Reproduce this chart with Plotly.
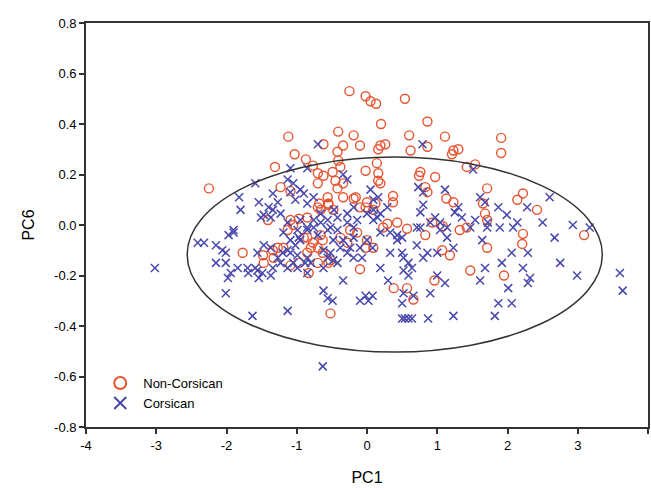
import plotly.graph_objects as go

# Non-Corsican (open circles): PC1, PC6
non_pc1 = [-0.25, -0.02, 0.05, 0.13, 0.54, 0.20, 0.86, 0.60, 1.11, 1.91, 1.91, -0.10, 0.19, 0.26, 0.16,
           0.62, 0.86, 1.23, 1.30, 1.21, 0.14, -0.02, 0.16, 1.42, 1.54, 0.76, 0.74, 0.97, 0.16, 0.83,
           0.86, 1.71, 0.37, 0.37, 1.13, 1.23, 1.65, 2.22, 2.14, 2.42, 1.68, 1.71, 0.43, 0.29, 0.93,
           1.08, 0.57, 1.32, 1.42, 2.22, 3.09, 2.21, 1.71, 1.47, 1.95, 0.96, 0.38, 0.57, 0.66, 1.07,
           1.18, 0.83, -0.10, 0.00, 0.09, -0.02,
           -1.77, -1.48, -1.34, -1.33, -1.47, -1.09, -0.97, -0.85, -0.70, -0.55, -0.83, -0.52, -0.85,
           -0.77, -0.66, -0.80, -1.13, -1.05, -1.41, -2.25, -1.12, -1.31, -1.03, -0.87, -0.62, -0.41,
           -0.19, -0.34, -0.42, -0.41, -0.38, -0.70, -0.62, -0.49, -0.77, -1.23, -1.09, -0.70, -0.45,
           -0.34, -0.42, -0.34, -0.19, -0.70, -0.55, -0.48, -1.09, -0.97, -0.02, 0.12,
           -0.16, 0.00, -0.10, 0.19, -0.56, -0.55, -0.68, -0.66, -0.85, 0.09, 0.23, -0.24, -0.14,
           -0.38, -0.28, -0.70, -0.63, -0.90, -1.19, -1.27, -0.52, -0.63]
non_pc6 = [0.53, 0.51, 0.49, 0.48, 0.50, 0.40, 0.41, 0.355, 0.35, 0.345, 0.285, 0.315, 0.315, 0.32, 0.30,
           0.295, 0.31, 0.295, 0.30, 0.28, 0.245, 0.215, 0.205, 0.23, 0.24, 0.21, 0.195, 0.19, 0.175, 0.15,
           0.13, 0.145, 0.115, 0.09, 0.105, 0.09, 0.085, 0.125, 0.10, 0.06, 0.045, 0.02, 0.01, 0.005, 0.01,
           -0.005, -0.015, -0.02, -0.01, -0.035, -0.04, -0.075, -0.09, -0.18, -0.20, -0.22, -0.25, -0.25, -0.295, -0.10,
           -0.12, -0.04, -0.175, -0.06, -0.09, -0.09,
           -0.11, -0.12, -0.10, -0.13, -0.15, -0.16, -0.15, -0.11, -0.15, -0.15, -0.19, -0.35, -0.05,
           -0.07, -0.04, -0.09, -0.02, 0.00, 0.02, 0.145, 0.35, 0.23, 0.28, 0.26, 0.32, 0.37,
           0.355, 0.315, 0.29, 0.255, 0.23, 0.205, 0.195, 0.21, 0.235, 0.15, 0.135, 0.165, 0.175,
           0.165, 0.145, 0.11, 0.105, 0.07, 0.08, 0.06, 0.02, 0.025, 0.07, 0.085,
           0.11, 0.09, 0.07, 0.165, 0.11, 0.085, 0.085, 0.06, 0.03, 0.06, -0.01, -0.02, -0.03,
           -0.05, -0.07, -0.09, -0.11, -0.05, -0.09, -0.09, -0.14, -0.06]

# Corsican (crosses): PC1, PC6
cor_pc1 = [-3.02, -2.41, -2.32, -2.15, -2.06, -2.01, -2.15, -2.01, -1.94, -1.84, -1.98, -2.01, -1.97, -1.90,
           -1.63, -1.13, -0.63, -1.70, -1.56, -1.54, -1.37, -1.34, -1.47, -1.56, -1.20, -1.13, -1.05, -0.85,
           -0.62, -0.56, -0.49, -0.34, -0.10, -0.52, -0.42, -0.62, -0.24, -0.34, -0.19, -1.09, -1.19, -0.99,
           -0.85, -1.69, -1.59, -1.49, -1.37, -1.27, -1.23, -1.09, -1.02, -0.95, -0.99, -0.88, -0.80, -0.02,
           0.02, -0.76, -0.66, -0.52, -0.42, -0.28, -0.19, -0.48, -0.38, -0.28, -0.62, -0.56, 0.00, 0.08,
           -0.07, -0.48,
           0.33, 0.43, 0.50, 0.76, 0.90, 1.04, 1.14, 1.23, 0.19, 0.33, 0.50, 0.52, 0.59, 0.64, 0.52, 0.59,
           0.30, 0.08, 0.52, 0.66, 0.50, 0.50, 0.54, 0.59, 0.64, 0.87, 1.23, 0.71, 0.86, 1.00, 0.80, 0.90,
           1.00, 1.11, 1.64, 1.68, 1.61, 1.87, 2.06, 1.82, 1.92, 2.06, 2.22, 2.29, 2.32, 2.29, 2.01, 1.71,
           1.89, 2.08, 2.50, 2.93, 2.67, 2.75, 2.99, 3.17, 3.60, 3.64,
           0.79, 1.51, 0.73, 0.80, 1.11, 1.61, 1.68, 2.60, 0.80, 0.76, 1.30, 1.25, 1.35, 1.87, 1.99, 2.28,
           0.05, 0.16, 0.09, 0.15, 0.97, 1.04, 1.14, 1.54, 1.47, 0.71, 1.72, 2.14,
           -0.70, -1.59, -1.09, -0.85, -1.82, -1.80, -1.54, -1.34, -1.40, -1.51, -1.37, -1.13, -1.05, -1.09,
           -1.02, -0.90, -0.85, -0.76, -0.34, -0.28, -0.66, -0.56, -0.42, -0.28, -0.14, 0.00, 0.09, 0.09,
           -1.90, -1.23, -1.13, -0.95, -0.85, -0.76, -1.47, -1.34, -1.27, -0.95,
           -0.47, -0.19, 0.19, 0.29, -0.97, -0.70, -0.56, -1.13, -0.99, -0.85, -0.19, -0.10, 0.19, 0.43]
cor_pc6 = [-0.17, -0.07, -0.07, -0.08, -0.10, -0.11, -0.15, -0.15, -0.19, -0.17, -0.21, -0.27, -0.04, -0.03,
           -0.36, -0.34, -0.56, -0.17, -0.18, -0.21, -0.20, -0.17, -0.08, -0.11, -0.11, -0.17, -0.15, -0.19,
           -0.26, -0.29, -0.30, -0.22, -0.30, -0.11, -0.15, -0.17, -0.09, -0.06, -0.05, -0.06, -0.03, -0.02,
           -0.02, -0.19, -0.17, -0.19, -0.09, -0.13, -0.15, -0.11, -0.08, -0.06, -0.17, -0.15, -0.15, -0.28,
           -0.30, 0.02, 0.01, -0.01, -0.02, 0.01, -0.01, -0.06, -0.09, -0.11, -0.10, -0.13, -0.06, -0.09,
           -0.13, -0.14,
           -0.03, -0.04, -0.05, -0.01, 0.01, -0.02, -0.05, -0.09, -0.17, -0.11, -0.11, -0.13, -0.15, -0.17, -0.18, -0.20,
           -0.22, -0.28, -0.27, -0.28, -0.31, -0.37, -0.37, -0.37, -0.37, -0.37, -0.36, -0.08, -0.11, -0.11, -0.13, -0.27,
           -0.20, -0.23, -0.06, -0.17, -0.22, -0.31, -0.31, -0.36, -0.15, -0.11, -0.17, -0.11, -0.21, -0.23, -0.25, -0.01,
           -0.01, -0.01, 0.01, 0.00, -0.05, -0.15, -0.20, -0.01, -0.19, -0.26,
           0.32, 0.22, 0.15, 0.13, 0.14, 0.11, 0.09, 0.11, 0.08, 0.05, 0.07, 0.05, 0.03, 0.07, 0.04, 0.07,
           0.14, 0.11, 0.06, 0.03, 0.03, 0.01, -0.01, 0.02, -0.01, -0.01, 0.01, 0.01,
           0.32, 0.165, 0.225, 0.225, 0.11, 0.06, 0.09, 0.125, 0.07, 0.03, 0.03, 0.18, 0.165, 0.13,
           0.10, 0.125, 0.085, 0.11, 0.20, 0.18, 0.045, 0.02, 0.03, 0.045, 0.02, 0.045, 0.02, 0.10,
           -0.02, 0.045, 0.01, 0.02, -0.01, -0.01, 0.04, 0.06, 0.09, 0.14,
           0.06, 0.07, 0.045, 0.07, -0.05, -0.04, -0.02, -0.10, -0.12, -0.13, -0.13, -0.09, -0.03, -0.06]

# Confidence ellipse (bounding box in data units)
ell_x = [-2.56, 3.35]
ell_y = [-0.503, 0.269]

x_ticks = [-4, -3, -2, -1, 0, 1, 2, 3, 4]
x_tick_labels = ["-4", "-3", "-2", "-1", "0", "1", "2", "3", "4"]
y_ticks = [-0.8, -0.6, -0.4, -0.2, 0.0, 0.2, 0.4, 0.6, 0.8]
y_tick_labels = ["-0.8", "-0.6", "-0.4", "-0.2", "0.0", "0.2", "0.4", "0.6", "0.8"]

RED = "rgb(232,84,48)"
BLUE = "rgb(72,72,172)"
AX = "#333333"
FONT = "Liberation Sans, Arial, sans-serif"

fig = go.Figure()
fig.add_trace(go.Scatter(
    x=non_pc1, y=non_pc6, mode="markers", name="Non-Corsican",
    marker=dict(symbol="circle-open", size=9, color=RED, line=dict(width=1.4, color=RED)),
))
fig.add_trace(go.Scatter(
    x=cor_pc1, y=cor_pc6, mode="markers", name="Corsican",
    marker=dict(symbol="x-thin-open", size=8, color=BLUE, line=dict(width=1.5, color=BLUE)),
))

fig.add_shape(type="circle", xref="x", yref="y",
              x0=ell_x[0], x1=ell_x[1], y0=ell_y[0], y1=ell_y[1],
              line=dict(color="#333333", width=1.5), layer="above")

fig.update_layout(
    width=651, height=490,
    margin=dict(l=86, r=3, t=23, b=63),
    paper_bgcolor="white", plot_bgcolor="white",
    font=dict(family=FONT, size=12, color="black"),
    showlegend=True,
    legend=dict(x=0.02, y=0.022, xanchor="left", yanchor="bottom",
                bgcolor="rgba(0,0,0,0)", font=dict(size=13, family=FONT),
                itemsizing="constant", itemwidth=36, tracegroupgap=0),
    xaxis=dict(range=[-4, 4], tickvals=x_ticks, ticktext=x_tick_labels, ticks="outside", ticklen=5,
               tickwidth=1.5, tickcolor=AX, showline=True, linecolor=AX, linewidth=1.8, mirror=True,
               showgrid=False, zeroline=False, automargin=False,
               title=dict(text="PC1", font=dict(size=16), standoff=20),
               tickfont=dict(size=13)),
    yaxis=dict(range=[-0.8, 0.8], tickvals=y_ticks, ticktext=y_tick_labels, ticks="outside", ticklen=5,
               tickwidth=1.5, tickcolor=AX, showline=True, linecolor=AX, linewidth=1.8, mirror=True,
               showgrid=False, zeroline=False, automargin=False,
               title=dict(text="PC6", font=dict(size=16)),
               tickfont=dict(size=13)),
)

fig.write_html("out.html", config={"displayModeBar": False},
               post_script="document.body.style.margin='0';document.body.style.padding='0';")
